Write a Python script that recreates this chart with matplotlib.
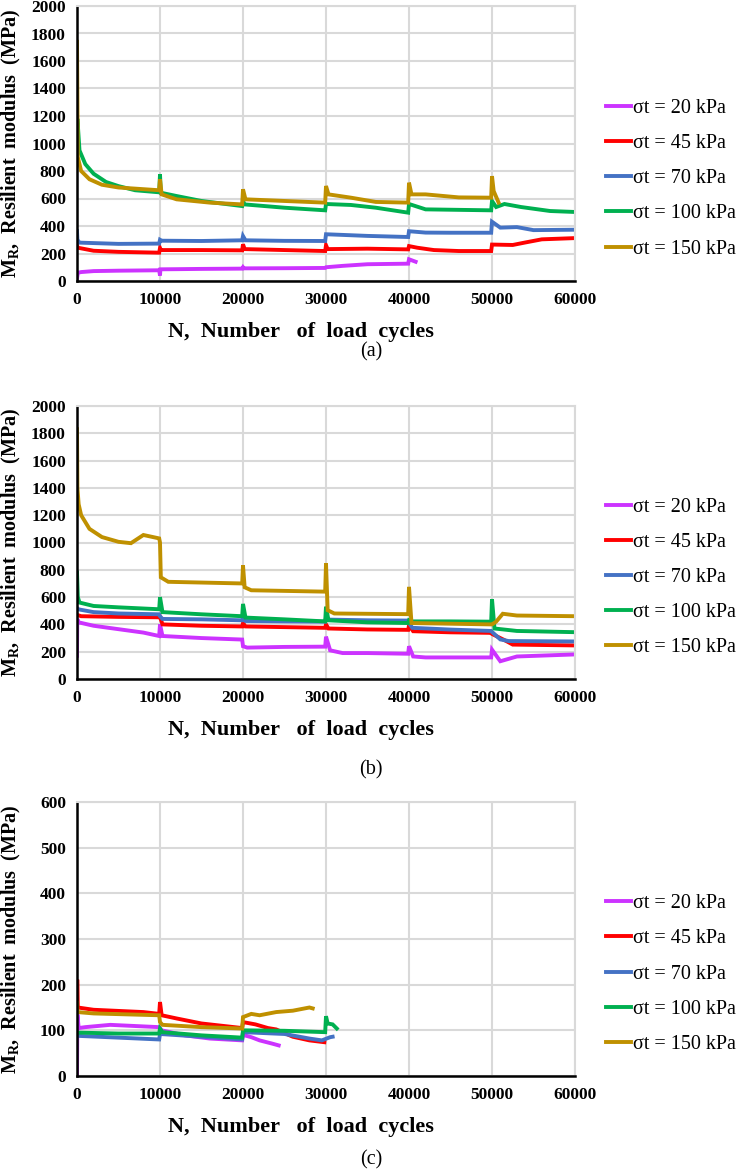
import matplotlib
matplotlib.use('Agg')
import matplotlib.pyplot as plt

plt.rcParams['font.family'] = ['Liberation Serif', 'DejaVu Serif']
plt.rcParams['mathtext.fontset'] = 'custom'
plt.rcParams['mathtext.rm'] = 'Liberation Serif'
plt.rcParams['mathtext.bf'] = 'Liberation Serif:bold'

LABELS = ['σt = 20 kPa', 'σt = 45 kPa', 'σt = 70 kPa', 'σt = 100 kPa', 'σt = 150 kPa']
COLORS = ['#cc33ff', '#ff0000', '#4472c4', '#00b050', '#bf9000']
X_TICKS = [0, 10000, 20000, 30000, 40000, 50000, 60000]

# ---- panel (a) ----
A20_N = [0, 100, 500, 2000, 5000, 9900, 10000, 10050, 12000, 15000, 19900, 20000, 20100,
         25000, 29900, 30000, 32000, 35000, 39900, 40000, 40800]
A20_MR = [20, 60, 65, 72, 75, 78, 40, 85, 86, 88, 90, 100, 92, 93, 95, 100, 110, 122, 126, 158, 140]

A45_N = [0, 100, 2000, 5000, 9900, 10000, 10100, 15000, 19900, 20000, 20200, 25000, 29900,
         30000, 30200, 35000, 39900, 40000, 41000, 43000, 46000, 49900, 50000, 52500, 54000,
         56000, 60000]
A45_MR = [260, 242, 220, 212, 206, 240, 225, 225, 223, 267, 232, 225, 218, 260, 232, 235, 230,
          254, 242, 225, 218, 218, 265, 262, 280, 303, 312]

A70_N = [0, 50, 300, 5000, 9900, 10000, 10200, 15000, 19900, 20000, 20300, 25000, 29900, 30000,
         35000, 39900, 40000, 42000, 45000, 49900, 50000, 51000, 53000, 55000, 60000]
A70_MR = [363, 300, 279, 270, 272, 300, 293, 291, 296, 327, 296, 292, 291, 340, 328, 320, 362,
          352, 351, 351, 431, 388, 392, 370, 373]

A100_N = [0, 50, 300, 1000, 2000, 3500, 5000, 7000, 9900, 10000, 10100, 12000, 15000, 19900,
          20000, 20200, 25000, 29900, 30000, 33000, 36000, 39900, 40000, 42000, 49900, 50000,
          50500, 51500, 53500, 57000, 60000]
A100_MR = [900, 1180, 950, 850, 780, 720, 690, 660, 645, 776, 642, 618, 582, 545, 582, 557, 533,
           514, 560, 553, 533, 497, 560, 521, 514, 582, 538, 560, 538, 509, 502]

A150_N = [0, 100, 500, 1500, 3000, 5000, 9900, 10000, 10200, 12000, 16000, 19900, 20000, 20300,
          25000, 29900, 30000, 30300, 33000, 36000, 39900, 40000, 40300, 42000, 46000, 49900,
          50000, 50200, 50800]
A150_MR = [1740, 900, 800, 740, 700, 680, 660, 739, 630, 594, 570, 557, 667, 594, 582, 570, 691,
           630, 606, 575, 570, 715, 630, 630, 608, 606, 763, 654, 570]

# ---- panel (b) ----
B20_N = [0, 30, 200, 2000, 5000, 8000, 9900, 10000, 10300, 15000, 19900, 20000, 20500, 25000,
         29900, 30000, 30500, 32000, 35000, 39900, 40000, 40500, 42000, 49900, 50000, 51000,
         53000, 60000]
B20_MR = [170, 440, 415, 390, 365, 340, 315, 400, 315, 300, 289, 240, 230, 235, 237, 310, 210,
          190, 190, 185, 240, 165, 158, 158, 215, 130, 165, 180]

B45_N = [0, 500, 5000, 9900, 10000, 10300, 15000, 19900, 20000, 20300, 25000, 29900, 30000,
         30300, 35000, 39900, 40000, 40500, 45000, 49900, 50000, 51500, 52500, 60000]
B45_MR = [470, 460, 455, 452, 455, 400, 390, 385, 410, 385, 380, 375, 400, 370, 363, 360, 393,
          350, 342, 338, 330, 285, 252, 246]

B70_N = [0, 200, 2000, 5000, 9900, 10000, 10300, 15000, 19900, 20000, 20300, 25000, 29900, 30000,
         30300, 35000, 39900, 40000, 40400, 45000, 49900, 50000, 51000, 52000, 60000]
B70_MR = [520, 510, 490, 480, 474, 460, 440, 437, 430, 440, 425, 422, 420, 450, 435, 430, 428,
          410, 375, 362, 352, 345, 290, 278, 275]

B100_N = [0, 100, 300, 2000, 5000, 9900, 10000, 10300, 15000, 19900, 20000, 20300, 25000, 29900,
          30000, 30300, 35000, 39900, 40000, 40300, 45000, 49900, 50000, 50300, 53000, 60000]
B100_MR = [780, 600, 560, 535, 525, 511, 600, 490, 474, 460, 550, 450, 437, 422, 530, 430, 415,
           410, 430, 422, 422, 420, 585, 370, 352, 343]

B150_N = [0, 50, 200, 500, 1500, 3000, 5000, 6500, 8000, 9900, 10000, 10100, 11000, 19900, 20000,
          20200, 21000, 29900, 30000, 30200, 31000, 39900, 40000, 40300, 45000, 49900, 50000,
          50500, 51300, 53000, 60000]
B150_MR = [1830, 1400, 1280, 1200, 1100, 1040, 1005, 995, 1055, 1030, 1000, 745, 712, 700, 832,
           672, 650, 640, 847, 504, 480, 475, 675, 410, 405, 400, 400, 420, 478, 465, 460]

# ---- panel (c) ----
C20_N = [0, 50, 200, 1000, 4000, 9900, 10000, 10200, 13000, 16000, 19900, 20000, 21000, 22000,
         23500, 24300]
C20_MR = [0, 135, 105, 107, 112, 107, 105, 100, 89, 82, 78, 90, 85, 78, 71, 67]

C45_N = [0, 30, 100, 2000, 8000, 9900, 10000, 10200, 12000, 15000, 19900, 20000, 21500, 23000,
         24000, 26000, 28000, 29800]
C45_MR = [150, 211, 150, 145, 140, 136, 162, 133, 126, 115, 105, 118, 113, 105, 102, 86, 78, 74]

C70_N = [0, 5000, 9900, 10000, 15000, 19900, 20000, 25000, 28000, 29500, 30500, 30800]
C70_MR = [88, 84, 80, 92, 86, 80, 96, 92, 82, 78, 85, 86]

C100_N = [0, 5000, 9900, 10000, 10300, 15000, 19900, 20000, 25000, 29900, 30000, 30200, 30800,
          31300]
C100_MR = [95, 93, 93, 104, 96, 89, 84, 100, 99, 96, 131, 115, 113, 104]

C150_N = [0, 50, 2000, 9900, 10000, 10300, 15000, 19900, 20000, 21000, 22000, 24000, 26000,
          28000, 28400]
C150_MR = [160, 140, 137, 133, 118, 112, 107, 104, 129, 136, 133, 140, 143, 150, 148]

PANELS = [
    ('(a)', [(A20_N, A20_MR), (A45_N, A45_MR), (A70_N, A70_MR), (A100_N, A100_MR), (A150_N, A150_MR)],
     2000, 200),
    ('(b)', [(B20_N, B20_MR), (B45_N, B45_MR), (B70_N, B70_MR), (B100_N, B100_MR), (B150_N, B150_MR)],
     2000, 200),
    ('(c)', [(C20_N, C20_MR), (C45_N, C45_MR), (C70_N, C70_MR), (C100_N, C100_MR), (C150_N, C150_MR)],
     600, 100),
]

W, H = 741, 1171
# axes boxes in pixels: (left, top, right, bottom)
BOXES = [(77, 6, 575, 281), (77, 406, 575, 679), (77, 802, 575, 1076)]
TAG_Y = [352, 770, 1160]

fig = plt.figure(figsize=(W / 100, H / 100), dpi=100)
grid_col = '#d9d9d9'

for (tag, series, ymax, ystep), (l, t, r, b), ty in zip(PANELS, BOXES, TAG_Y):
    ax = fig.add_axes([l / W, 1 - b / H, (r - l) / W, (b - t) / H])
    for (n, mr), col, lab in zip(series, COLORS, LABELS):
        ax.plot(n, mr, color=col, linewidth=2.8, label=lab, solid_joinstyle='miter')
    ax.set_xlim(0, 60000)
    ax.set_ylim(0, ymax)
    ax.set_xticks(X_TICKS)
    ax.set_yticks(range(0, ymax + 1, ystep))
    ax.grid(True, color=grid_col, linewidth=1.5)
    ax.set_axisbelow(True)
    for s in ['top', 'right']:
        ax.spines[s].set_color(grid_col)
        ax.spines[s].set_linewidth(1.5)
    for s in ['left', 'bottom']:
        ax.spines[s].set_color('black')
        ax.spines[s].set_linewidth(1.8)
    ax.tick_params(length=0, labelsize=12.5, pad=8)
    for lbl in ax.get_xticklabels() + ax.get_yticklabels():
        lbl.set_fontweight('bold')
    ax.set_xlabel('N,  Number   of  load  cycles', fontsize=16, fontweight='bold')
    ax.xaxis.set_label_coords(0.45, -0.15)
    ax.set_ylabel(r'$\mathbf{M_R}$,  Resilient  modulus  (MPa)', fontsize=14.5, fontweight='bold')
    ax.yaxis.set_label_coords(-0.108, 0.5)
    leg = ax.legend(loc='center left', bbox_to_anchor=(1.062, 0.372), frameon=False,
                    fontsize=14.5, handlelength=1.25, handletextpad=0.1, labelspacing=0.8,
                    borderaxespad=0, borderpad=0)
    for line in leg.get_lines():
        line.set_linewidth(2.8)
    fig.text(371 / W, 1 - ty / H, tag, ha='center', va='center', fontsize=14.5)

fig.savefig('out.png', dpi=100)
